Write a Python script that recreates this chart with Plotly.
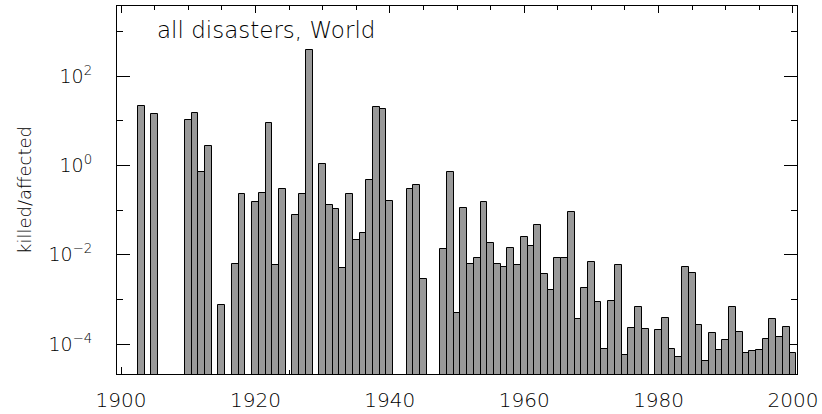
import plotly.graph_objects as go

years = [1903, 1905, 1910, 1911, 1912, 1913, 1915, 1917, 1918, 1920,
         1921, 1922, 1923, 1924, 1926, 1927, 1928, 1930, 1931, 1932,
         1933, 1934, 1935, 1936, 1937, 1938, 1939, 1940, 1943, 1944,
         1945, 1948, 1949, 1950, 1951, 1952, 1953, 1954, 1955, 1956,
         1957, 1958, 1959, 1960, 1961, 1962, 1963, 1964, 1965, 1966,
         1967, 1968, 1969, 1970, 1971, 1972, 1973, 1974, 1975, 1976,
         1977, 1978, 1980, 1981, 1982, 1983, 1984, 1985, 1986, 1987,
         1988, 1989, 1990, 1991, 1992, 1993, 1994, 1995, 1996, 1997,
         1998, 1999, 2000]

killed_per_affected = [
    21, 14, 10.2, 14.7, 0.70, 2.76, 7.4e-4, 6.3e-3, 0.23, 0.153,
    0.24, 9.06, 5.8e-3, 0.30, 0.077, 0.23, 380, 1.07, 0.129, 0.107,
    5.1e-3, 0.23, 0.021, 0.030, 0.47, 20.3, 18.0, 0.159, 0.29, 0.36,
    2.8e-3, 0.0133, 0.70, 4.9e-4, 0.109, 6.1e-3, 8.3e-3, 0.156, 0.018, 6.35e-3,
    5.3e-3, 0.014, 5.8e-3, 0.0247, 0.0158, 0.046, 3.7e-3, 1.6e-3, 8.3e-3, 8.3e-3,
    0.091, 3.6e-4, 1.78e-3, 7.0e-3, 8.6e-4, 7.6e-5, 9.1e-4, 5.8e-3, 5.7e-5, 2.3e-4,
    6.8e-4, 2.2e-4, 2.1e-4, 3.8e-4, 7.9e-5, 5.0e-5, 5.3e-3, 3.9e-3, 2.6e-4, 4.1e-5,
    1.74e-4, 7.4e-5, 1.2e-4, 6.6e-4, 1.83e-4, 6.2e-5, 7.0e-5, 7.2e-5, 1.28e-4, 3.6e-4,
    1.47e-4, 2.46e-4, 6.4e-5]

x_tickvals = [1900, 1920, 1940, 1960, 1980, 2000]
x_ticktext = ["1900", "1920", "1940", "1960", "1980", "2000"]
y_tickvals = [1e-4, 1e-2, 1, 100]
y_ticktext = ["10<sup>−4</sup>", "10<sup>−2</sup>", "10<sup>0</sup>", "10<sup>2</sup>"]
y_minorvals = [1e-3, 1e-1, 10, 1000]

FONT = "DejaVu Sans"
TXT = "#000000"

fig = go.Figure()
fig.add_trace(go.Bar(
    x=years, y=killed_per_affected, width=1,
    marker=dict(color="#999999", line=dict(color="black", width=1)),
    showlegend=False,
))

fig.update_layout(
    width=822, height=414,
    margin=dict(l=117, r=25, t=6, b=40),
    paper_bgcolor="white", plot_bgcolor="white",
    bargap=0,
    font=dict(family=FONT, color=TXT, size=18),
    xaxis=dict(
        range=[1899.4, 2000.6],
        tickvals=x_tickvals, ticktext=x_ticktext,
        ticks="inside", ticklen=7, tickcolor="black", tickwidth=1,
        minor=dict(dtick=5, tick0=1900, ticks="inside", ticklen=4, tickcolor="black", tickwidth=1),
        showline=True, linecolor="black", linewidth=1, mirror="ticks",
        showgrid=False, zeroline=False,
        tickfont=dict(family=FONT, size=20, color=TXT, weight=300),
        ticklabelstandoff=8,
        automargin=False,
        layer="below traces",
    ),
    yaxis=dict(
        type="log",
        range=[-4.672, 3.574],
        tickvals=y_tickvals, ticktext=y_ticktext,
        ticks="inside", ticklen=13, tickcolor="black", tickwidth=1,
        minor=dict(tickvals=y_minorvals, ticks="inside", ticklen=6, tickcolor="black", tickwidth=1),
        showline=True, linecolor="black", linewidth=1, mirror="ticks",
        showgrid=False, zeroline=False,
        tickfont=dict(family=FONT, size=19, color=TXT, weight=300),
        ticklabelstandoff=20,
        automargin=False,
        title=dict(text="killed/affected", font=dict(family=FONT, size=18, color=TXT, weight=300), standoff=12),
        layer="below traces",
    ),
    annotations=[dict(
        text="all disasters, World", xref="paper", yref="paper",
        x=(155 - 117) / 680, y=(374 - 30) / 368, xanchor="left", yanchor="middle",
        showarrow=False, font=dict(family=FONT, size=23, color=TXT, weight=300),
    )],
)

fig.write_html("out.html", config={"displayModeBar": False},
               post_script="document.body.style.margin='0px';document.body.style.padding='0px';")
